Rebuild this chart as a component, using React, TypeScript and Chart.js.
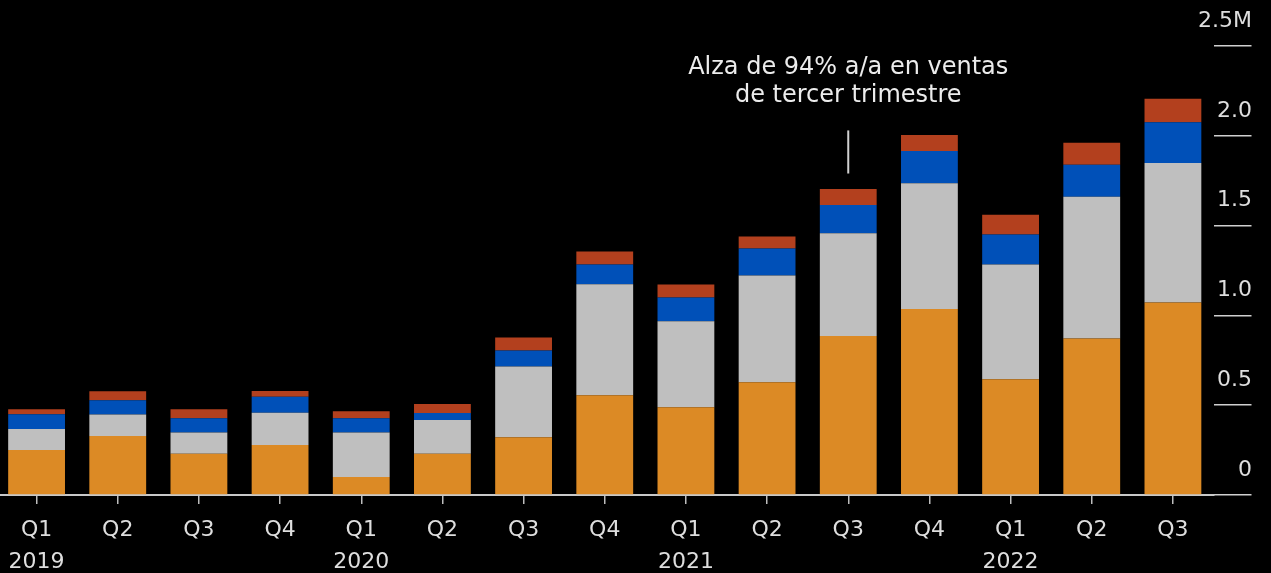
import React, { useEffect, useRef } from "react";
import { Chart, registerables } from "chart.js";

Chart.register(...registerables);

// Categories
const quarters = ["Q1", "Q2", "Q3", "Q4", "Q1", "Q2", "Q3", "Q4", "Q1", "Q2", "Q3", "Q4", "Q1", "Q2", "Q3"];
const years = ["2019", "", "", "", "2020", "", "", "", "2021", "", "", "", "2022", "", ""];

// Series (millions of units), stacked bottom to top
const seriesNames = ["Serie 1", "Serie 2", "Serie 3", "Serie 4"];
const orangeValues = [0.25, 0.328, 0.229, 0.278, 0.1, 0.229, 0.322, 0.556, 0.489, 0.628, 0.885, 1.036, 0.644, 0.872, 1.072];
const grayValues = [0.117, 0.12, 0.119, 0.18, 0.248, 0.189, 0.394, 0.617, 0.478, 0.594, 0.572, 0.7, 0.639, 0.789, 0.776];
const blueValues = [0.083, 0.08, 0.079, 0.089, 0.079, 0.039, 0.089, 0.111, 0.133, 0.15, 0.158, 0.18, 0.167, 0.178, 0.228];
const redValues = [0.028, 0.05, 0.05, 0.032, 0.039, 0.05, 0.072, 0.072, 0.072, 0.067, 0.089, 0.089, 0.111, 0.122, 0.13];

// Y axis ticks
const yTickValues = [0, 0.5, 1, 1.5, 2, 2.5];
const yTickLabels = ["0", "0.5", "1.0", "1.5", "2.0", "2.5M"];

// Annotation
const annotationLines = ["Alza de 94% a/a en ventas", "de tercer trimestre"];
const annotationIndex = 10;
const annotationTextValues = [2.38, 2.225];
const annotationLineRange = [1.79, 2.03];

const COLORS = ["#dc8a25", "#bfbfbf", "#0050b8", "#b3401e"];
const TEXT = "#dedede";
const FONT = '"DejaVu Sans", sans-serif';

const annotationPlugin = {
  id: "annotationText",
  afterDatasetsDraw(chart: any) {
    const { ctx, scales } = chart;
    const x = scales.x;
    const y = scales.y;
    const px = x.getPixelForValue(annotationIndex);
    ctx.save();
    ctx.strokeStyle = "#d0d0d0";
    ctx.lineWidth = 2;
    ctx.beginPath();
    ctx.moveTo(px, y.getPixelForValue(annotationLineRange[0]));
    ctx.lineTo(px, y.getPixelForValue(annotationLineRange[1]));
    ctx.stroke();
    ctx.fillStyle = "#ececec";
    ctx.font = `24px ${FONT}`;
    ctx.textAlign = "center";
    ctx.textBaseline = "middle";
    annotationLines.forEach((t, i) => {
      ctx.fillText(t, px, y.getPixelForValue(annotationTextValues[i]));
    });
    ctx.restore();
  },
};

export default function App() {
  const canvasRef = useRef<HTMLCanvasElement | null>(null);

  useEffect(() => {
    document.body.style.background = "#000";
    const canvas = canvasRef.current;
    if (!canvas) return;
    const labels = quarters.map((q, i) => (years[i] ? [q, years[i]] : q));
    const values = [orangeValues, grayValues, blueValues, redValues];
    const chart = new Chart(canvas, {
      type: "bar",
      data: {
        labels,
        datasets: values.map((v, i) => ({
          label: seriesNames[i],
          data: v,
          backgroundColor: COLORS[i],
          borderWidth: 0,
          barPercentage: 0.7,
          categoryPercentage: 1,
          stack: "s",
        })),
      },
      options: {
        animation: false,
        responsive: false,
        maintainAspectRatio: false,
        layout: { padding: { top: 46, left: 0, right: 0, bottom: 0 } },
        plugins: { legend: { display: false }, tooltip: { enabled: false }, title: { display: false } },
        scales: {
          x: {
            stacked: true,
            offset: true,
            grid: { display: true, drawOnChartArea: false, drawTicks: true, tickLength: 9, offset: false, color: "#bdbdbd", lineWidth: 1.5 },
            border: { display: true, color: "#c8c8c8", width: 2 },
            ticks: { color: TEXT, font: { family: FONT, size: 22, lineHeight: 32 / 22 }, padding: 10, maxRotation: 0, autoSkip: false },
            afterFit: (scale: any) => {
              scale.height = 78;
            },
          },
          y: {
            stacked: true,
            position: "right",
            min: 0,
            max: 2.5,
            afterBuildTicks: (scale: any) => {
              scale.ticks = yTickValues.map((v) => ({ value: v }));
            },
            grid: { display: true, drawOnChartArea: false, drawTicks: true, tickLength: 38, color: "#cfcfcf", lineWidth: 1.5 },
            border: { display: false },
            ticks: {
              color: TEXT,
              font: { family: FONT, size: 22 },
              mirror: true,
              padding: 38.5,
              labelOffset: -25,
              callback: (value: any) => {
                const idx = yTickValues.indexOf(Number(value));
                return idx >= 0 ? yTickLabels[idx] : "";
              },
            },
            afterFit: (scale: any) => {
              scale.width = 57.5;
              scale.paddingTop = 0;
              scale.paddingBottom = 0;
            },
          },
        },
      },
      plugins: [annotationPlugin],
    });
    return () => chart.destroy();
  }, []);

  return (
    <div style={{ position: "absolute", left: -4, top: 0, width: 1275, height: 573, background: "#000" }}>
      <canvas ref={canvasRef} width={1275} height={573} style={{ width: 1275, height: 573, display: "block" }} />
    </div>
  );
}
